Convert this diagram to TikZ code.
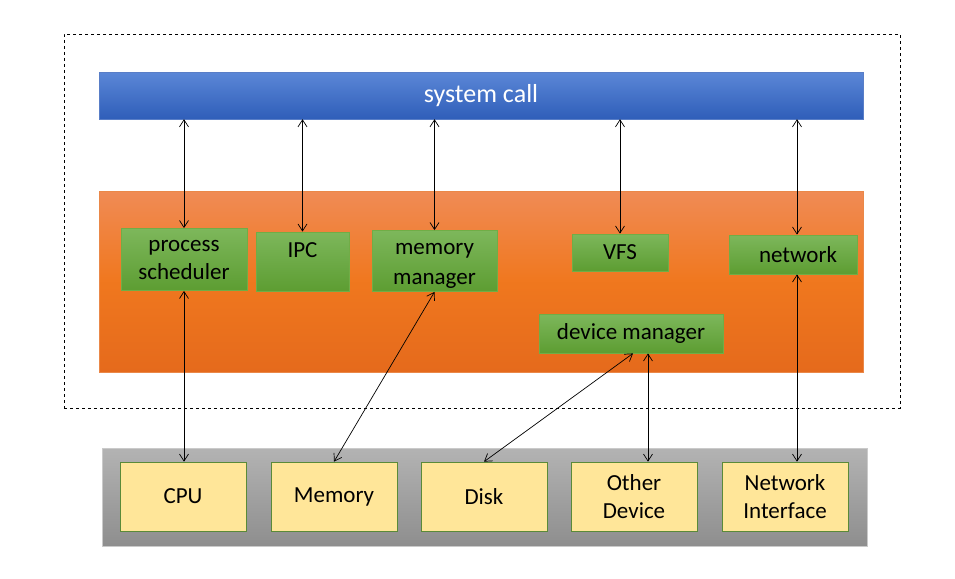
\documentclass[tikz,border=0pt]{standalone}
\usepackage{fontspec}
\setmainfont{Carlito}
\usetikzlibrary{arrows.meta}

\definecolor{barblue}{HTML}{2F5EB9}
\definecolor{barbluetop}{HTML}{5B87D7}
\definecolor{coretop}{HTML}{F08B55}
\definecolor{corebot}{HTML}{E56A1C}
\definecolor{greentop}{HTML}{7DB75B}
\definecolor{greenbot}{HTML}{5D9D32}
\definecolor{greenline}{HTML}{70AD47}
\definecolor{hwyellow}{HTML}{FFE699}
\definecolor{hwtop}{HTML}{B3B3B3}
\definecolor{hwbot}{HTML}{8E8E8E}

\tikzset{
  module/.style={draw=greenline, line width=0.8pt, top color=greentop, bottom color=greenbot,
    align=center, inner sep=0pt, font=\fontsize{23}{28}\selectfont},
  device/.style={draw=greenline!80!black, line width=0.6pt, fill=hwyellow, align=center,
    inner sep=0pt, minimum width=126, minimum height=69, font=\fontsize{23}{28}\selectfont},
  label text/.style={align=center, font=\fontsize{23}{30}\selectfont},
  link/.style={<->, line width=0.7pt}
}

\begin{document}
\begin{tikzpicture}[x=1pt, y=-1pt, >={Straight Barb[length=7pt,width=9pt]}]
\useasboundingbox (0,0) rectangle (955,578);

% layers
\node [draw, dashed, line width=0.6pt, minimum width=836, minimum height=374] (kernel) at (482, 221) {};
\node [top color=barbluetop, bottom color=barblue, draw=barblue!80, minimum width=764, minimum height=47,
  text=white, font=\fontsize{26}{28}\selectfont] (sys) at (481, 95.5) {system call};
\node [top color=coretop, bottom color=corebot, middle color=corebot!60!orange!80!coretop, draw=corebot!80,
  minimum width=764, minimum height=181] (core) at (481, 281.5) {};
\node [top color=hwtop, bottom color=hwbot, draw=hwtop!70, minimum width=765, minimum height=98] (hw) at (484.5, 497) {};

% kernel modules
\node [module, minimum width=126, minimum height=62] (ps) at (184, 259.5) {process\\scheduler};
\node [module, minimum width=93, minimum height=59] (ipc) at (302.5, 261.5) {};
\node [label text] (ipct) at (302.5, 250) {IPC};
\node [module, minimum width=125, minimum height=61] (mm) at (434.5, 261) {};
\node [label text] (mmt) at (434.5, 266) {memory\\manager};
\node [module, minimum width=96, minimum height=37] (vfs) at (620, 252.5) {VFS};
\node [module, minimum width=128, minimum height=39] (net) at (793, 254.5) {\hspace{10pt}network};
\node [module, minimum width=184, minimum height=39] (dev) at (631, 333.5) {device manager};

% hardware
\node [device] (cpu) at (183, 496.5) {CPU};
\node [device] (mem) at (334, 496.5) {Memory};
\node [device] (disk) at (484, 496.5) {Disk};
\node [device] (oth) at (634, 496.5) {Other\\Device};
\node [device] (nic) at (785, 496.5) {Network\\Interface};

% arrows
\draw [link] (sys.south -| ps.north) to (ps.north);
\draw [link] (sys.south -| ipc.north) to (ipc.north);
\draw [link] (sys.south -| mm.north) to (mm.north);
\draw [link] (sys.south -| vfs.north) to (vfs.north);
\draw [link] ([xshift=4]sys.south -| net.north) to ([xshift=4]net.north);

\draw [link] (ps.south) to (ps.south |- cpu.north);
\draw [link] (mm.south) to (mem.north);
\draw [link] ([xshift=2]dev.south) to (disk.north);
\draw [link] ([xshift=17]dev.south) to ([xshift=17]dev.south |- oth.north);
\draw [link] ([xshift=4]net.south) to ([xshift=4]net.south |- nic.north);

\end{tikzpicture}
\end{document}
